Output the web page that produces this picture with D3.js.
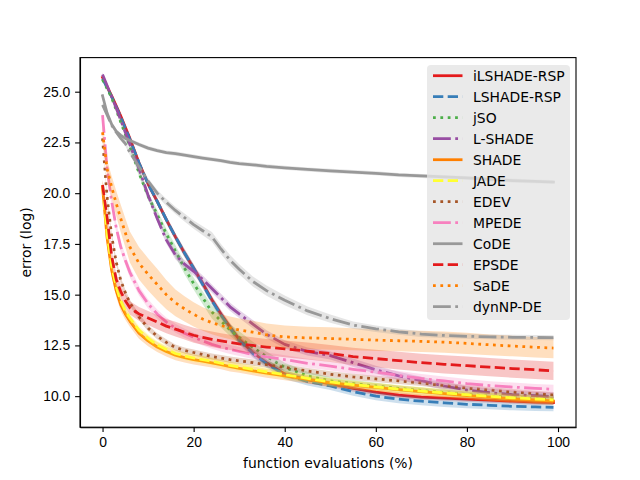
<!DOCTYPE html>
<html lang="en">
<head>
    <meta charset="UTF-8">
    <title>error curves</title>
    <script src="https://d3js.org/d3.v7.min.js"></script>
    <style>
        body { margin: 0; background: white; }
        svg { display: block; font-family: "DejaVu Sans", sans-serif; }
        .axis text { font-size: 13.9px; fill: black; }
        .axis path, .axis line { stroke: black; stroke-width: 1.1; }
        .line { fill: none; stroke-width: 2.78; stroke-linejoin: round; }
        .band { stroke: none; fill-opacity: .25; }
    </style>
</head>
<body>
<script>
    const width = 640;
    const height = 480;
    const margin = {top: 57.6, right: 64, bottom: 52.8, left: 80};

    // x grid (% of function evaluations)
    const evals = [0, 1, 2, 3, 4, 5, 6, 8, 10, 12, 14, 16, 18, 20, 22, 24, 26, 28, 30, 33, 36, 40, 45, 50, 55, 60, 65, 70, 75, 80, 85, 90, 95, 99];

    const names = ["iLSHADE-RSP", "LSHADE-RSP", "jSO", "L-SHADE", "SHADE", "JADE", "EDEV", "MPEDE", "CoDE", "EPSDE", "SaDE", "dynNP-DE"];
    const colors = ["#e41a1c", "#377eb8", "#4daf4a", "#984ea3", "#ff7f00", "#ffff33", "#a65628", "#f781bf", "#999999", "#e41a1c", "#ff7f00", "#999999"];

    // mean error per algorithm
    const ilshadeRsp = [25.7, 25.25, 24.8, 24.3, 23.8, 23.25, 22.7, 21.5, 20.45, 19.6, 18.7, 17.85, 17.05, 16.3, 15.55, 14.75, 14.05, 13.4, 12.8, 12.15, 11.65, 11.1, 10.8, 10.6, 10.38, 10.2, 10.05, 9.95, 9.9, 9.85, 9.8, 9.75, 9.7, 9.68];
    const lshadeRsp = [25.65, 25.2, 24.75, 24.25, 23.75, 23.2, 22.65, 21.5, 20.45, 19.6, 18.7, 17.85, 17.05, 16.3, 15.5, 14.7, 14.0, 13.35, 12.75, 12.1, 11.6, 11.05, 10.72, 10.5, 10.22, 10.0, 9.85, 9.75, 9.67, 9.6, 9.55, 9.5, 9.47, 9.45];
    const jso = [25.6, 25.15, 24.7, 24.1, 23.5, 22.9, 22.3, 21.0, 19.85, 18.95, 18.0, 17.15, 16.3, 15.55, 14.85, 14.15, 13.7, 13.26, 12.9, 12.4, 11.95, 11.42, 11.0, 10.75, 10.62, 10.5, 10.38, 10.28, 10.18, 10.08, 10.0, 9.93, 9.88, 9.85];
    const lshade = [25.85, 25.3, 24.75, 24.2, 23.6, 23.0, 22.4, 21.2, 19.9, 18.75, 17.7, 16.95, 16.5, 16.15, 15.75, 15.3, 14.85, 14.4, 14.05, 13.55, 13.05, 12.55, 12.2, 12.0, 11.65, 11.3, 11.0, 10.76, 10.5, 10.3, 10.17, 10.08, 10.02, 9.98];
    const shade = [20.3, 17.8, 16.2, 15.2, 14.5, 14.05, 13.7, 13.1, 12.72, 12.42, 12.2, 12.02, 11.9, 11.8, 11.72, 11.64, 11.55, 11.45, 11.37, 11.25, 11.13, 11.0, 10.83, 10.66, 10.54, 10.43, 10.32, 10.22, 10.12, 10.03, 9.95, 9.87, 9.81, 9.76];
    const jade = [20.4, 18.0, 16.4, 15.4, 14.7, 14.2, 13.85, 13.25, 12.85, 12.52, 12.3, 12.1, 11.98, 11.88, 11.8, 11.72, 11.62, 11.52, 11.44, 11.32, 11.2, 11.06, 10.88, 10.7, 10.57, 10.46, 10.35, 10.25, 10.16, 10.07, 9.99, 9.92, 9.86, 9.82];
    const edev = [22.7, 19.8, 17.9, 16.6, 15.7, 15.1, 14.6, 13.9, 13.35, 12.95, 12.65, 12.4, 12.25, 12.15, 12.05, 11.95, 11.88, 11.8, 11.74, 11.65, 11.55, 11.42, 11.24, 11.08, 10.95, 10.85, 10.75, 10.65, 10.52, 10.4, 10.3, 10.2, 10.12, 10.06];
    const mpede = [23.85, 21.2, 19.6, 18.3, 17.35, 16.7, 16.1, 15.2, 14.55, 14.05, 13.65, 13.35, 13.1, 12.9, 12.72, 12.55, 12.42, 12.3, 12.2, 12.05, 11.93, 11.8, 11.62, 11.48, 11.32, 11.18, 11.02, 10.87, 10.75, 10.62, 10.52, 10.45, 10.38, 10.34];
    const code = [24.8, 23.95, 23.4, 23.05, 22.85, 22.7, 22.6, 22.4, 22.22, 22.1, 22.0, 21.95, 21.88, 21.8, 21.73, 21.67, 21.6, 21.52, 21.46, 21.4, 21.32, 21.25, 21.17, 21.1, 21.04, 20.98, 20.9, 20.85, 20.8, 20.75, 20.68, 20.62, 20.58, 20.55];
    const epsde = [20.4, 18.8, 16.9, 15.75, 15.15, 14.7, 14.35, 14.05, 13.85, 13.65, 13.45, 13.3, 13.15, 13.0, 12.9, 12.8, 12.72, 12.65, 12.58, 12.5, 12.42, 12.33, 12.22, 12.1, 11.95, 11.85, 11.75, 11.65, 11.57, 11.5, 11.43, 11.36, 11.3, 11.24];
    const sade = [23.0, 21.2, 20.3, 19.5, 18.75, 18.05, 17.35, 16.55, 16.0, 15.5, 15.0, 14.6, 14.3, 14.03, 13.8, 13.62, 13.48, 13.36, 13.26, 13.15, 13.02, 12.92, 12.87, 12.84, 12.8, 12.76, 12.73, 12.7, 12.66, 12.6, 12.53, 12.47, 12.41, 12.37];
    const dynnpde = [24.35, 23.85, 23.35, 23.0, 22.7, 22.45, 22.0, 21.3, 20.6, 20.0, 19.55, 19.15, 18.8, 18.45, 18.15, 17.85, 17.25, 16.7, 16.25, 15.65, 15.2, 14.72, 14.2, 13.82, 13.5, 13.32, 13.17, 13.06, 12.99, 12.95, 12.92, 12.9, 12.89, 12.88];

    // spread (half width of the shaded band)
    const ilshadeRspSd = [0.1, 0.12, 0.12, 0.12, 0.14, 0.14, 0.15, 0.15, 0.16, 0.17, 0.18, 0.18, 0.2, 0.2, 0.2, 0.2, 0.2, 0.2, 0.2, 0.2, 0.18, 0.17, 0.16, 0.15, 0.15, 0.14, 0.14, 0.13, 0.13, 0.12, 0.12, 0.12, 0.12, 0.12];
    const lshadeRspSd = [0.1, 0.12, 0.12, 0.12, 0.14, 0.14, 0.15, 0.15, 0.16, 0.17, 0.18, 0.18, 0.2, 0.2, 0.2, 0.2, 0.2, 0.2, 0.2, 0.2, 0.2, 0.2, 0.2, 0.2, 0.2, 0.2, 0.2, 0.2, 0.2, 0.2, 0.2, 0.2, 0.2, 0.2];
    const jsoSd = [0.1, 0.1, 0.1, 0.12, 0.12, 0.14, 0.15, 0.18, 0.2, 0.22, 0.25, 0.28, 0.3, 0.3, 0.32, 0.32, 0.32, 0.3, 0.3, 0.28, 0.25, 0.22, 0.2, 0.18, 0.17, 0.16, 0.15, 0.15, 0.15, 0.15, 0.15, 0.15, 0.15, 0.15];
    const lshadeSd = [0.1, 0.1, 0.1, 0.12, 0.12, 0.14, 0.15, 0.15, 0.16, 0.17, 0.18, 0.2, 0.2, 0.2, 0.2, 0.2, 0.2, 0.2, 0.2, 0.2, 0.2, 0.2, 0.2, 0.2, 0.2, 0.2, 0.2, 0.2, 0.2, 0.2, 0.2, 0.2, 0.2, 0.2];
    const shadeSd = [0.3, 0.3, 0.3, 0.3, 0.3, 0.28, 0.28, 0.27, 0.26, 0.25, 0.25, 0.25, 0.24, 0.24, 0.24, 0.23, 0.23, 0.23, 0.22, 0.22, 0.22, 0.22, 0.21, 0.21, 0.2, 0.2, 0.2, 0.2, 0.2, 0.2, 0.2, 0.2, 0.2, 0.2];
    const jadeSd = [0.25, 0.25, 0.24, 0.23, 0.22, 0.22, 0.21, 0.2, 0.2, 0.2, 0.2, 0.2, 0.2, 0.2, 0.2, 0.2, 0.2, 0.2, 0.2, 0.2, 0.2, 0.2, 0.2, 0.2, 0.2, 0.2, 0.2, 0.2, 0.2, 0.2, 0.2, 0.2, 0.2, 0.2];
    const edevSd = [0.15, 0.15, 0.15, 0.15, 0.15, 0.15, 0.15, 0.15, 0.15, 0.15, 0.15, 0.15, 0.15, 0.15, 0.15, 0.15, 0.15, 0.15, 0.15, 0.15, 0.15, 0.15, 0.15, 0.15, 0.15, 0.15, 0.15, 0.15, 0.15, 0.15, 0.15, 0.15, 0.15, 0.15];
    const mpedeSd = [0.2, 0.22, 0.24, 0.25, 0.25, 0.25, 0.25, 0.24, 0.23, 0.22, 0.22, 0.22, 0.22, 0.22, 0.22, 0.22, 0.22, 0.22, 0.22, 0.22, 0.22, 0.22, 0.22, 0.22, 0.22, 0.22, 0.22, 0.22, 0.22, 0.22, 0.22, 0.22, 0.22, 0.22];
    const codeSd = [0.1, 0.1, 0.1, 0.1, 0.1, 0.1, 0.1, 0.1, 0.1, 0.1, 0.1, 0.1, 0.1, 0.1, 0.1, 0.1, 0.1, 0.1, 0.1, 0.1, 0.1, 0.1, 0.1, 0.1, 0.1, 0.1, 0.1, 0.1, 0.1, 0.1, 0.1, 0.1, 0.1, 0.1];
    const epsdeSd = [0.25, 0.28, 0.3, 0.3, 0.32, 0.32, 0.33, 0.34, 0.35, 0.35, 0.35, 0.36, 0.36, 0.37, 0.37, 0.38, 0.38, 0.38, 0.39, 0.4, 0.4, 0.41, 0.42, 0.42, 0.43, 0.43, 0.44, 0.44, 0.45, 0.45, 0.45, 0.45, 0.45, 0.45];
    const sadeSd = [0.3, 0.45, 0.55, 0.62, 0.68, 0.72, 0.76, 0.8, 0.8, 0.78, 0.72, 0.66, 0.62, 0.6, 0.58, 0.57, 0.56, 0.56, 0.56, 0.56, 0.56, 0.56, 0.55, 0.55, 0.54, 0.53, 0.52, 0.52, 0.52, 0.52, 0.51, 0.51, 0.5, 0.5];
    const dynnpdeSd = [0.1, 0.1, 0.1, 0.1, 0.12, 0.12, 0.13, 0.14, 0.15, 0.16, 0.17, 0.18, 0.2, 0.2, 0.22, 0.24, 0.25, 0.25, 0.25, 0.25, 0.25, 0.24, 0.22, 0.2, 0.18, 0.16, 0.15, 0.14, 0.13, 0.12, 0.12, 0.12, 0.12, 0.12];

    const means = [ilshadeRsp, lshadeRsp, jso, lshade, shade, jade, edev, mpede, code, epsde, sade, dynnpde];
    const spreads = [ilshadeRspSd, lshadeRspSd, jsoSd, lshadeSd, shadeSd, jadeSd, edevSd, mpedeSd, codeSd, epsdeSd, sadeSd, dynnpdeSd];

    const xTicks = [0, 20, 40, 60, 80, 100];
    const yTicks = [10.0, 12.5, 15.0, 17.5, 20.0, 22.5, 25.0];

    // matplotlib line styles at lw=2 (pt -> px at 100 dpi)
    const dashes = [null, "10.3,4.4", "2.78,4.58", "17.8,4.44,2.78,4.44"];

    const series = names.map((name, i) => ({
        name: name,
        color: colors[i],
        dash: dashes[i % dashes.length],
        values: evals.map((x, j) => ({x: x, y: means[i][j], sd: spreads[i][j]}))
    }));

    const svg = d3.select("body").append("svg")
        .attr("width", width).attr("height", height);

    const x = d3.scaleLinear().domain([-4.95, 103.95]).range([margin.left, width - margin.right]);
    const y = d3.scaleLinear().domain([8.47, 26.68]).range([height - margin.bottom, margin.top]);

    const line = d3.line().x(d => x(d.x)).y(d => y(d.y));
    const area = d3.area().x(d => x(d.x)).y0(d => y(d.y - d.sd)).y1(d => y(d.y + d.sd));

    const plot = svg.append("g");
    series.forEach(s => {
        plot.append("path")
            .attr("class", "line")
            .attr("d", line(s.values))
            .attr("stroke", s.color)
            .attr("stroke-dasharray", s.dash)
            .attr("stroke-linecap", s.dash ? "butt" : "square");
        plot.append("path")
            .attr("class", "band")
            .attr("d", area(s.values))
            .attr("fill", s.color);
    });

    // axes
    svg.append("g")
        .attr("class", "axis")
        .attr("transform", `translate(0,${height - margin.bottom})`)
        .call(d3.axisBottom(x).tickValues(xTicks).tickSize(4.9).tickPadding(4.9).tickSizeOuter(0));
    svg.append("g")
        .attr("class", "axis")
        .attr("transform", `translate(${margin.left},0)`)
        .call(d3.axisLeft(y).tickValues(yTicks).tickFormat(d3.format(".1f")).tickSize(4.9).tickPadding(4.9).tickSizeOuter(0));

    // frame
    svg.append("rect")
        .attr("x", margin.left).attr("y", margin.top)
        .attr("width", width - margin.left - margin.right)
        .attr("height", height - margin.top - margin.bottom)
        .attr("fill", "none").attr("stroke", "black").attr("stroke-width", 1.1);

    svg.append("text")
        .attr("x", (margin.left + width - margin.right) / 2).attr("y", 468)
        .attr("text-anchor", "middle").style("font-size", "13.9px")
        .text("function evaluations (%)");
    svg.append("text")
        .attr("transform", `translate(31,${(margin.top + height - margin.bottom) / 2}) rotate(-90)`)
        .attr("text-anchor", "middle").style("font-size", "13.9px")
        .text("error (log)");

    // legend
    const legend = svg.append("g").attr("transform", "translate(427,65)");
    legend.append("rect")
        .attr("width", 143).attr("height", 255).attr("rx", 4)
        .attr("fill", "#e5e5e5").attr("fill-opacity", 0.8);
    const row = legend.selectAll("g.row")
        .data(series)
        .enter()
        .append("g")
        .attr("class", "row")
        .attr("transform", (d, i) => `translate(0,${10.7 + i * 21})`);
    row.append("line")
        .attr("x1", 6).attr("x2", 35.5)
        .attr("stroke", d => d.color)
        .attr("stroke-width", 2.78)
        .attr("stroke-dasharray", d => d.dash);
    row.append("text")
        .attr("x", 46).attr("y", 5)
        .style("font-size", "13.9px")
        .text(d => d.name);
</script>

</body>
</html>
